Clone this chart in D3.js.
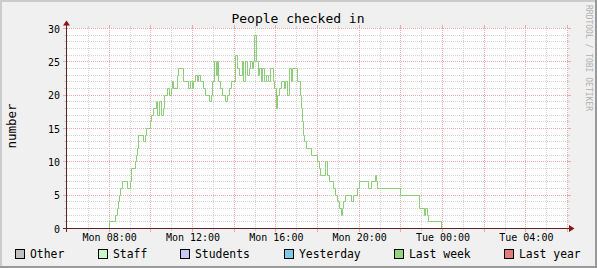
<!DOCTYPE html>
<html><head><meta charset="utf-8">
<script src="https://cdn.jsdelivr.net/npm/d3@7"></script>
<style>html,body{margin:0;padding:0;background:#f0f0f0}svg{display:block}</style>
</head><body>
<svg id="c" width="597" height="268"></svg>
<script>
// ---- data ----
const title = "People checked in";
const yLabel = "number";
const watermark = "RRDTOOL / TOBI OETIKER";
// minutes since Mon 00:00
const times = [478,480,498,503,508,510,513,518,534,540,543,544,557,560,562,564,579,586,588,598,601,608,615,619,625,631,636,639,649,655,659,662,666,678,681,694,708,714,719,723,729,733,737,742,752,757,770,775,779,782,788,791,796,801,805,815,821,827,832,845,850,855,863,867,874,878,883,888,892,895,899,905,909,914,919,923,927,933,939,946,952,956,961,965,971,977,985,989,994,998,1004,1009,1022,1030,1035,1038,1040,1043,1048,1063,1079,1087,1089,1103,1108,1115,1125,1132,1138,1144,1149,1153,1156,1161,1178,1185,1195,1201,1228,1235,1246,1250,1252,1319,1374,1388,1392,1396,1400,1437];
const values = [0,1,2,3,4,5,6,7,6,7,8,9,10,11,12,14,13,14,15,16,17,18,19,17,19,17,18,20,21,20,21,22,21,23,24,22,21,22,21,22,23,22,23,22,21,20,19,20,22,25,23,25,22,21,20,19,20,21,22,26,24,23,25,22,25,23,24,25,24,25,29,25,23,24,22,24,22,23,22,24,22,21,18,20,21,22,21,22,20,24,22,24,22,20,18,16,14,13,12,11,10,9,8,10,8,7,6,5,4,3,2,3,4,5,4,5,6,7,6,7,8,7,6,5,3,2,3,2,1,0];
const yTicks = [0,5,10,15,20,25,30];
const yDomain = [0,30];
const legendLabels = ["Other","Staff","Students","Yesterday","Last week","Last year"];
const legendColors = ["#c0c0c0","#c8f7c8","#c8c8f7","#80c8e8","#94d480","#e07c7c"];

// ---- drawing ----
const W = 597, H = 268;
const FONT = "'DejaVu Sans Mono', monospace";
const svg = d3.select("#c");
const base = new Date(2024, 0, 1, 0, 0); // a Monday
const t0 = d3.timeHour.offset(base, 6), t1 = d3.timeHour.offset(base, 30);
const x = d3.scaleTime().domain([t0, t1]).range([67, 567]);
const y = d3.scaleLinear().domain(yDomain).range([228, 28]);
const px = v => Math.round(v) + 0.5;

svg.append("rect").attr("width", W).attr("height", H).attr("fill", "#f0f0f0");
svg.append("rect").attr("x",0).attr("y",0).attr("width",W).attr("height",2).attr("fill","#cbcbcb");
svg.append("rect").attr("x",0).attr("y",0).attr("width",2).attr("height",H).attr("fill","#cbcbcb");
svg.append("rect").attr("x",0).attr("y",H-2).attr("width",W).attr("height",2).attr("fill","#999");
svg.append("rect").attr("x",W-2).attr("y",0).attr("width",2).attr("height",H).attr("fill","#999");

svg.append("rect").attr("x",67).attr("y",28).attr("width",501).attr("height",201).attr("fill","#fff");

const MINOR = "#d2d2d2", MAJOR = "#efa8a8";
const grid = svg.append("g").attr("shape-rendering","crispEdges");
// horizontal grid
y.ticks(30).forEach(v => {
  const major = v % 5 === 0;
  const c = major ? MAJOR : MINOR;
  const yy = px(y(v));
  grid.append("line").attr("x1",67).attr("x2",568).attr("y1",yy).attr("y2",yy)
    .attr("stroke",c).attr("stroke-dasharray","1,1");
  grid.append("line").attr("x1",major?63:64).attr("x2",67).attr("y1",yy).attr("y2",yy).attr("stroke",c);
  grid.append("line").attr("x1",568).attr("x2",major?571:570).attr("y1",yy).attr("y2",yy).attr("stroke",c);
});
// vertical grid
x.ticks(d3.timeHour.every(1)).forEach(t => {
  const major = t.getHours() % 2 === 0;
  const c = major ? MAJOR : MINOR;
  const xx = px(x(t));
  if (xx < 68) return;
  grid.append("line").attr("x1",xx).attr("x2",xx).attr("y1",28).attr("y2",228)
    .attr("stroke",c).attr("stroke-dasharray","1,1");
  grid.append("line").attr("x1",xx).attr("x2",xx).attr("y1",major?25:26).attr("y2",28).attr("stroke",c);
  grid.append("line").attr("x1",xx).attr("x2",xx).attr("y1",229).attr("y2",major?232:231).attr("stroke",c);
});

// data line
const data = times.map((m, i) => ({t: d3.timeMinute.offset(base, m), v: values[i]}));
const line = d3.line()
  .x(d => px(x(d.t)))
  .y(d => px(y(d.v)))
  .curve(d3.curveStepAfter);
svg.append("path").datum(data).attr("d", line)
  .attr("fill","none").attr("stroke","#8ccd78").attr("stroke-width",1);

// axes lines + arrows
const AX = "#5e2222", AR = "#8a1414";
svg.append("line").attr("x1",63).attr("x2",570).attr("y1",228.5).attr("y2",228.5).attr("stroke",AX);
svg.append("line").attr("x1",66.5).attr("x2",66.5).attr("y1",232).attr("y2",25).attr("stroke",AX);
svg.append("polygon").attr("points","569,225 569,232 574.5,228.5").attr("fill",AR);
svg.append("polygon").attr("points","63,25.5 70,25.5 66.5,20.5").attr("fill",AR);

// axis labels via d3 axes
const xAxis = d3.axisBottom(x).ticks(d3.timeHour.every(4)).tickFormat(d3.timeFormat("%a %H:%M"))
  .tickSize(0).tickPadding(6);
const gx = svg.append("g").attr("transform","translate(0.5,228)").call(xAxis);
gx.select(".domain").remove();
gx.selectAll("text").attr("font-family",FONT).attr("font-size","10px").attr("fill","#000");

const yAxis = d3.axisLeft(y).tickValues(yTicks).tickSize(0).tickPadding(7);
const gy = svg.append("g").attr("transform","translate(67,0.5)").call(yAxis);
gy.select(".domain").remove();
gy.selectAll("text").attr("font-family",FONT).attr("font-size","10px").attr("fill","#000").attr("dy","0.35em");

// title
svg.append("text").attr("x",298).attr("y",23).attr("text-anchor","middle")
  .attr("font-family",FONT).attr("font-size","13px").attr("fill","#000").text(title);
// y label
svg.append("text").attr("transform","translate(15.5,126) rotate(-90)").attr("text-anchor","middle")
  .attr("font-family",FONT).attr("font-size","12.5px").attr("fill","#000").text(yLabel);
// watermark
svg.append("text").attr("transform","translate(585.5,5) rotate(90)").attr("text-anchor","start")
  .attr("font-family",FONT).attr("font-size","8px").attr("fill","#b0b0b0").text(watermark);

// legend (justified)
const lg = svg.append("g");
const items = legendLabels.map((l, i) => {
  const g = lg.append("g");
  g.append("rect").attr("x",0.5).attr("y",249.5).attr("width",9).attr("height",9)
    .attr("fill",legendColors[i]).attr("stroke","#000");
  const tx = g.append("text").attr("x",15).attr("y",258).attr("font-family",FONT)
    .attr("font-size","11.4px").attr("fill","#000").text(l);
  return {g, w: 15 + tx.node().getComputedTextLength()};
});
const L = 15, R = 580.5;
const total = d3.sum(items, d => d.w);
const gap = (R - L - total) / (items.length - 1);
let cx = L;
items.forEach(it => { it.g.attr("transform", `translate(${Math.round(cx)},0)`); cx += it.w + gap; });
</script>
</body></html>
